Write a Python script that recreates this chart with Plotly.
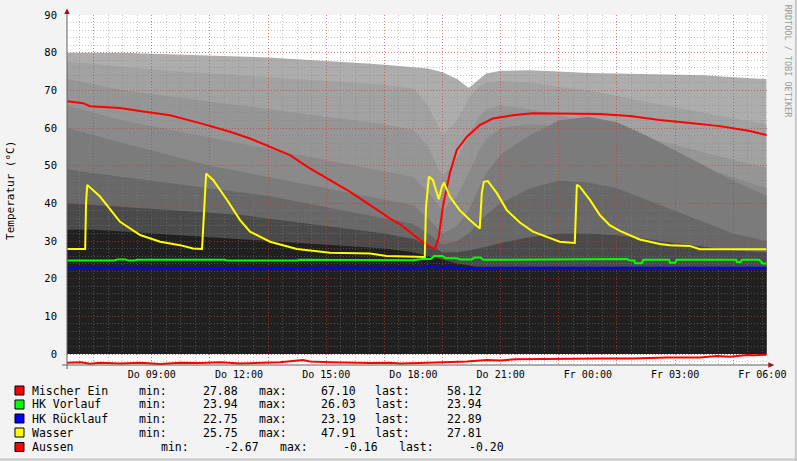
import plotly.graph_objects as go

# ---------------- data (hours since Thursday 00:00) ----------------
T_LAYER = [6.09, 7, 8, 9, 10, 11, 12, 13, 14, 15, 16, 17, 18, 18.5, 19, 19.5, 19.9,
           20.25, 20.5, 21, 22, 23, 24, 25, 26, 27, 28, 29, 30.14]

LAYER_1 = [80, 80, 80, 79.7, 79.5, 79.3, 79, 78.7, 78.3, 77.8, 77.3, 76.8, 76, 75.8, 74.8, 73, 70.6,
           73, 74.5, 75.2, 75.3, 75, 74.6, 74.5, 74.4, 74.2, 74, 73.5, 73]
LAYER_2 = [77.5, 77, 76.2, 75.5, 75, 74.5, 74, 73.5, 73, 72.5, 72, 71.5, 70.5, 66, 58, 62, 68,
           71, 72, 72.5, 72, 71, 70, 68.5, 67, 65.5, 64, 62.5, 61]
LAYER_3 = [73, 71.5, 70, 69, 68, 67, 66, 65, 64, 63, 62, 61, 59.5, 55, 47, 52, 58,
           63, 65, 66, 65, 63.5, 61.5, 59.5, 57.5, 55.5, 53.5, 51.5, 49.5]
LAYER_4 = [66, 64, 62, 60.5, 59, 57.5, 56, 54.5, 53, 51.5, 50, 48.5, 47, 43, 38, 42, 48,
           54, 57, 60, 61, 60.5, 59, 57, 54.5, 52, 49.5, 47, 44]
LAYER_5 = [60, 58, 56, 54, 52, 50, 48.5, 47, 45.5, 44, 42.5, 41, 39.5, 36, 32, 34, 38,
           44, 48, 53, 58, 62, 63, 61.5, 58, 54, 50, 46, 42]
LAYER_6 = [49, 48, 47, 46, 45, 44, 43, 42, 40.5, 39, 37.5, 36, 34.5, 32, 29, 30, 32,
           35, 37, 40, 44, 46, 45.5, 44, 41, 38, 35, 32, 30]
LAYER_7 = [40, 39.5, 39, 38.5, 38, 37.5, 37, 36, 35, 34, 33, 32, 30.5, 29, 27, 27, 27.5,
           28, 28.5, 29.5, 31, 32, 32, 31.5, 30.5, 29.5, 28.5, 27.5, 27]
LAYER_8 = [33, 33, 32.5, 32, 31.5, 31, 30.5, 30, 29.5, 29, 28.5, 28, 27, 26, 25, 24, 23.5,
           23, 23, 23, 22.8, 22.8, 22.8, 22.8, 22.8, 22.8, 22.8, 22.8, 22.8]
LAYERS = [LAYER_1, LAYER_2, LAYER_3, LAYER_4, LAYER_5, LAYER_6, LAYER_7, LAYER_8]
LAYER_COLORS = ["#adadad", "#a2a2a2", "#969696", "#8a8a8a", "#7b7b7b", "#686868", "#4a4a4a", "#202020"]

MISCHER_T = [6.09, 6.64, 6.88, 7.91, 8.70, 9.63, 10.66, 11.69, 12.38, 13.07, 13.75, 14.44, 15.13,
             15.81, 16.50, 17.19, 17.53, 17.88, 18.22, 18.57, 18.74, 18.87, 19.01, 19.25, 19.49,
             19.84, 20.28, 20.73, 21.42, 22.11, 23.72, 24.41, 25.44, 26.47, 27.50, 28.54, 29.57, 30.14]
MISCHER_V = [67.1, 66.6, 65.8, 65.3, 64.4, 63.4, 61.3, 59, 57.2, 55, 52.8, 49.3, 46.2,
             43.1, 39.6, 36, 34.5, 32.4, 30.3, 28.5, 27.88, 31, 39, 48, 54.2,
             57.7, 60.8, 62.5, 63.4, 63.9, 63.9, 63.7, 63.2, 62.1, 61.3, 60.5, 59.2, 58.12]

VORLAUF_T = [6.09, 7.7, 7.8, 8.1, 8.2, 8.4, 8.5, 11.5, 11.6, 14.0, 14.1, 15.5, 16.0, 18.0, 18.3,
             18.6, 18.7, 19.0, 19.1, 19.5, 19.6, 20.0, 20.1, 20.3, 20.4, 23.0, 23.1, 23.5, 23.6,
             25.0, 25.1, 25.35, 25.45, 25.6, 25.62, 25.85, 25.9, 26.8, 26.82, 27.0, 27.05,
             29.1, 29.12, 29.25, 29.3, 29.9, 30.0, 30.14]
VORLAUF_V = [24.8, 24.8, 25.1, 25.1, 24.8, 24.8, 25.0, 25.0, 24.8, 24.8, 25.0, 25.0, 24.9, 24.9, 25.2,
             25.2, 26.03, 26.0, 25.4, 25.4, 25.1, 25.1, 25.6, 25.6, 25.0, 25.0, 25.2, 25.2, 25.0,
             25.0, 25.2, 25.2, 24.8, 24.8, 24.1, 24.1, 25.0, 25.0, 24.2, 24.2, 25.0,
             25.0, 24.4, 24.4, 25.0, 25.0, 24.1, 23.94]

RUECKLAUF_T = [6.09, 8.1, 8.2, 8.4, 14.0, 14.5, 18.3, 18.45, 18.7, 18.8, 19.3, 19.6, 21.0,
               25.9, 26.0, 26.3, 26.4, 30.14]
RUECKLAUF_V = [22.9, 22.9, 23.1, 22.9, 22.75, 22.9, 22.9, 23.19, 23.19, 22.9, 23.05, 22.85, 22.9,
               22.9, 23.1, 23.1, 22.9, 22.89]

WASSER_T = [6.09, 6.71, 6.74, 6.78, 7.22, 7.91, 8.60, 9.29, 9.97, 10.42, 10.73, 10.76, 10.87,
            11.11, 11.59, 12.03, 12.38, 13.07, 13.99, 15.13, 16.50, 17.08, 17.88, 18.39, 18.43,
            18.53, 18.67, 18.81, 18.87, 18.98, 19.05, 19.25, 19.59, 19.94, 20.28, 20.35, 20.42,
            20.56, 20.87, 21.21, 21.66, 22.11, 22.59, 23.03, 23.55, 23.62, 23.72, 24.07, 24.41,
            24.75, 25.10, 25.44, 25.78, 26.13, 26.47, 26.81, 27.50, 27.85, 28.88, 30.14]
WASSER_V = [27.9, 27.9, 40, 44.9, 41.8, 35.1, 31.6, 29.8, 28.9, 28.0, 27.9, 32, 47.91,
            46.2, 40.9, 35.6, 32.5, 29.8, 27.9, 26.9, 26.7, 26, 25.8, 25.75, 38.7,
            47.1, 46.2, 42.7, 41.1, 44.4, 45.5, 41.8, 38.2, 35.6, 33.3, 42.7, 45.7,
            45.9, 42.7, 38.2, 34.9, 32.5, 31.1, 29.8, 29.5, 44.9, 44.4, 40.9, 36.9,
            34.2, 32.7, 31.6, 30.4, 29.8, 29.2, 28.9, 28.7, 27.8, 27.8, 27.81]

AUSSEN_T = [6.09, 6.54, 6.88, 7.22, 7.91, 8.60, 9.29, 9.97, 10.66, 11.35, 12.03, 12.72, 13.41,
            14.20, 14.44, 15.13, 15.81, 16.50, 17.19, 17.53, 18.22, 18.91, 19.84, 20.52, 20.97,
            21.55, 22.34, 23.03, 24.41, 25.54, 26.13, 26.71, 27.85, 28.44, 28.88, 29.47, 29.74,
            30.01, 30.14]
AUSSEN_V = [-2.3, -2.2, -2.6, -2.3, -2.5, -2.3, -2.67, -2.3, -2.4, -2.2, -2.5, -2.3, -2.2,
            -1.6, -2.0, -2.2, -2.3, -2.4, -2.3, -2.5, -2.4, -2.2, -2.0, -1.6, -1.7,
            -1.4, -1.3, -1.2, -1.2, -1.2, -1.0, -0.9, -0.9, -0.5, -0.7, -0.27, -0.3,
            -0.16, -0.2]

X_TICKS = [9, 12, 15, 18, 21, 24, 27, 30]
X_TICKTEXT = ["Do 09:00", "Do 12:00", "Do 15:00", "Do 18:00", "Do 21:00",
              "Fr 00:00", "Fr 03:00", "Fr 06:00"]
Y_TICKS = [0, 10, 20, 30, 40, 50, 60, 70, 80, 90]

LEGEND_NAMES = ["Mischer Ein", "HK Vorlauf", "HK Rücklauf", "Wasser", "Aussen"]
LEGEND_COLORS = ["#ff0000", "#00ff00", "#0000ff", "#ffff00", "#ff0000"]
LEGEND_MIN = ["27.88", "23.94", "22.75", "25.75", "-2.67"]
LEGEND_MAX = ["67.10", "26.03", "23.19", "47.91", "-0.16"]
LEGEND_LAST = ["58.12", "23.94", "22.89", "27.81", "-0.20"]

# ---------------- layout geometry ----------------
W, H = 797, 461
PL, PR, PT, PB = 67, 766.7, 15, 365
XR = [6.085, 30.16]
YR = [-2.92, 90]
MONO = "DejaVu Sans Mono"
MAJ_RED = "rgba(255,0,0,0.37)"
MIN_GRAY = "rgba(130,130,130,0.45)"


def px(x):
    return (x - PL) / (PR - PL)


def py(y):
    return (PB - y) / (PB - PT)


fig = go.Figure()

for vals, col in zip(LAYERS, LAYER_COLORS):
    fig.add_trace(go.Scatter(x=T_LAYER, y=vals, mode="lines", line=dict(width=0, color=col),
                             fill="tozeroy", fillcolor=col, hoverinfo="skip",
                             xaxis="x", yaxis="y"))

# invisible trace so the grid subplot (x2/y2) gets created above the areas
fig.add_trace(go.Scatter(x=[XR[0]], y=[YR[0]], mode="markers", marker=dict(size=1, opacity=0),
                         hoverinfo="skip", xaxis="x2", yaxis="y2"))

series = [(MISCHER_T, MISCHER_V, "#ff0000"), (VORLAUF_T, VORLAUF_V, "#00ff00"),
          (RUECKLAUF_T, RUECKLAUF_V, "#0000ff"), (WASSER_T, WASSER_V, "#ffff00"),
          (AUSSEN_T, AUSSEN_V, "#ff0000")]
for t, v, c in series:
    fig.add_trace(go.Scatter(x=t, y=v, mode="lines", line=dict(width=2, color=c),
                             hoverinfo="skip", xaxis="x3", yaxis="y3"))

maj_x = [h for h in range(7, 31, 2)]
min_x = [h / 2 for h in range(13, 61)]
min_y = [v for v in range(-2, 91, 2)]

fig.update_layout(
    width=W, height=H, showlegend=False,
    margin=dict(l=PL, r=W - PR, t=PT, b=H - PB, pad=0, autoexpand=False),
    paper_bgcolor="#f3f3f3", plot_bgcolor="rgba(0,0,0,0)",
    xaxis=dict(range=XR, visible=False, domain=[0, 1]),
    yaxis=dict(range=YR, visible=False, domain=[0, 1]),
    xaxis2=dict(range=XR, anchor="y2", domain=[0, 1], tickmode="array", tickvals=maj_x,
                showticklabels=False, ticks="", showgrid=True, gridcolor=MAJ_RED,
                griddash="1px,2px", gridwidth=1, zeroline=False, showline=False,
                minor=dict(tickmode="array", tickvals=min_x, showgrid=True,
                           gridcolor=MIN_GRAY, griddash="1px,2px", gridwidth=1, ticks="")),
    yaxis2=dict(range=YR, anchor="x2", domain=[0, 1], tickmode="array", tickvals=Y_TICKS,
                showticklabels=False, ticks="", showgrid=True, gridcolor=MAJ_RED,
                griddash="1px,2px", gridwidth=1, zeroline=False, showline=False,
                minor=dict(tickmode="array", tickvals=min_y, showgrid=True,
                           gridcolor=MIN_GRAY, griddash="1px,2px", gridwidth=1, ticks="")),
    xaxis3=dict(range=XR, anchor="y3", domain=[0, 1], tickmode="array", tickvals=X_TICKS,
                ticktext=X_TICKTEXT, showgrid=False, zeroline=False, showline=False, ticks="",
                tickfont=dict(family=MONO, size=10, color="#000"), ticklabelstandoff=2),
    yaxis3=dict(range=YR, anchor="x3", domain=[0, 1], tickmode="array", tickvals=Y_TICKS,
                showgrid=False, zeroline=False, showline=False, ticks="",
                tickfont=dict(family=MONO, size=10.5, color="#000"), ticklabelstandoff=9),
)

shapes = []
shapes.append(dict(type="rect", xref="paper", yref="paper", x0=0, x1=1, y0=0, y1=1,
                   fillcolor="#ffffff", line=dict(width=0), layer="below"))
shapes.append(dict(type="line", xref="paper", yref="paper", x0=px(67), x1=px(67), y0=py(369), y1=py(12),
                   line=dict(color="#606060", width=1), layer="above"))
shapes.append(dict(type="line", xref="paper", yref="paper", x0=px(62), x1=px(770), y0=py(365), y1=py(365),
                   line=dict(color="#606060", width=1), layer="above"))
shapes.append(dict(type="path", xref="paper", yref="paper",
                   path=f"M {px(64.3)} {py(14)} L {px(69.7)} {py(14)} L {px(67)} {py(8.5)} Z",
                   fillcolor="#a01010", line=dict(width=0), layer="above"))
shapes.append(dict(type="path", xref="paper", yref="paper",
                   path=f"M {px(768)} {py(362.3)} L {px(768)} {py(367.7)} L {px(774)} {py(365)} Z",
                   fillcolor="#a01010", line=dict(width=0), layer="above"))
shapes.append(dict(type="line", xref="paper", yref="paper", x0=px(0), x1=px(797), y0=py(459.5), y1=py(459.5),
                   line=dict(color="#c8c8c8", width=2), layer="above"))
shapes.append(dict(type="line", xref="paper", yref="paper", x0=px(795.5), x1=px(795.5), y0=py(0), y1=py(461),
                   line=dict(color="#c8c8c8", width=2), layer="above"))

annotations = []
rows_y = [390.5, 404.5, 418.5, 432.5, 447]
cols = [137, 200.7, 256.7, 319.3, 373.3, 445]
cols_a = [159.3, 221.7, 277.7, 340.7, 396.7, 466.7]
for i, name in enumerate(LEGEND_NAMES):
    yy = rows_y[i]
    shapes.append(dict(type="rect", xref="paper", yref="paper", x0=px(15), x1=px(24),
                       y0=py(yy - 4.5), y1=py(yy + 4.5), fillcolor=LEGEND_COLORS[i],
                       line=dict(color="#000", width=1), layer="above"))
    cx = cols_a if name == "Aussen" else cols
    texts = [name, "min:", LEGEND_MIN[i], "max:", LEGEND_MAX[i], "last:", LEGEND_LAST[i]]
    xs = [30.5] + cx
    for tx, xx in zip(texts, xs):
        annotations.append(dict(xref="paper", yref="paper", x=px(xx), y=py(yy), text=tx,
                                showarrow=False, xanchor="left", yanchor="middle",
                                font=dict(family=MONO, size=11.5, color="#000")))

annotations.append(dict(xref="paper", yref="paper", x=px(10), y=py(190), text="Temperatur (°C)",
                        textangle=-90, showarrow=False, xanchor="center", yanchor="middle",
                        font=dict(family=MONO, size=11, color="#000")))
annotations.append(dict(xref="paper", yref="paper", x=px(788), y=py(61), text="RRDTOOL / TOBI OETIKER",
                        textangle=90, showarrow=False, xanchor="center", yanchor="middle",
                        font=dict(family=MONO, size=8.5, color="#9a9a9a")))

fig.update_layout(shapes=shapes, annotations=annotations)
fig.write_html("out.html", config={"displayModeBar": False, "staticPlot": True},
               post_script="document.body.style.margin='0';document.body.style.overflow='hidden';")
